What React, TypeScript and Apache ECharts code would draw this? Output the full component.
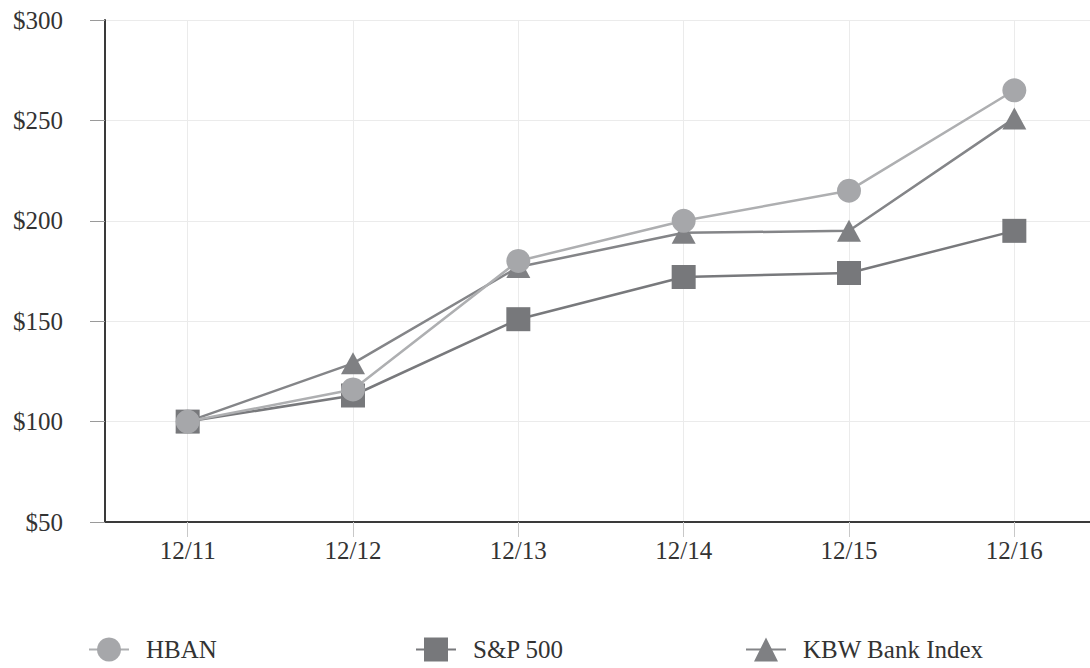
import React, { useEffect, useRef } from "react";
import * as echarts from "echarts";

const categories = ["12/11", "12/12", "12/13", "12/14", "12/15", "12/16"];
const hban = [100, 116, 180, 200, 215, 265];
const sp500 = [100, 113, 151, 172, 174, 195];
const kbw = [100, 129, 177, 194, 195, 251];
const yTicks = { min: 50, max: 300, interval: 50 };

const FONT = "'Liberation Serif', 'Times New Roman', serif";

export default function App() {
  const ref = useRef<HTMLDivElement>(null);
  useEffect(() => {
    if (!ref.current) return;
    const chart = echarts.init(ref.current, null, { renderer: "svg" });
    const legendBase = (left: number, name: string) => ({
      data: [name],
      left,
      top: 637,
      padding: 0,
      itemWidth: 40,
      itemHeight: 30,
      textStyle: {
        fontFamily: FONT,
        fontSize: 25,
        color: "#333",
        padding: [0, 0, 0, 12],
      },
    });
    chart.setOption({
      animation: false,
      backgroundColor: "#fff",
      grid: { left: 105, top: 20, width: 992, height: 502 },
      legend: [
        legendBase(88, "HBAN"),
        legendBase(415, "S&P 500"),
        legendBase(745, "KBW Bank Index"),
      ],
      xAxis: {
        type: "category",
        data: categories,
        boundaryGap: true,
        axisLine: { lineStyle: { color: "#3a3a3a", width: 2 } },
        axisTick: {
          show: true,
          alignWithLabel: true,
          length: 15,
          lineStyle: { color: "#c8c8c8", width: 1 },
        },
        axisLabel: {
          fontFamily: FONT,
          fontSize: 25,
          color: "#333",
          margin: 16,
        },
        splitLine: {
          show: true,
          alignWithLabel: true,
          lineStyle: { color: "#ebebeb", width: 1 },
        },
      },
      yAxis: {
        type: "value",
        min: yTicks.min,
        max: yTicks.max,
        interval: yTicks.interval,
        axisLine: { show: true, lineStyle: { color: "#3a3a3a", width: 2 } },
        axisTick: {
          show: true,
          length: 15,
          lineStyle: { color: "#9a9a9a", width: 1 },
        },
        axisLabel: {
          fontFamily: FONT,
          fontSize: 25,
          color: "#333",
          margin: 42,
          formatter: (v: number) => "$" + v,
        },
        splitLine: { show: true, lineStyle: { color: "#ebebeb", width: 1 } },
      },
      series: [
        {
          name: "KBW Bank Index",
          type: "line",
          data: kbw,
          z: 2,
          symbol: "triangle",
          symbolSize: [24, 22],
          lineStyle: { color: "#848588", width: 2.5 },
          itemStyle: { color: "#7f8083" },
        },
        {
          name: "S&P 500",
          type: "line",
          data: sp500,
          z: 3,
          symbol: "rect",
          symbolSize: 24,
          lineStyle: { color: "#78797c", width: 2.5 },
          itemStyle: { color: "#77787b" },
        },
        {
          name: "HBAN",
          type: "line",
          data: hban,
          z: 4,
          symbol: "circle",
          symbolSize: 24,
          lineStyle: { color: "#aeafb1", width: 2.5 },
          itemStyle: { color: "#a6a7aa" },
        },
      ],
    });
    return () => chart.dispose();
  }, []);
  return (
    <div
      ref={ref}
      style={{ position: "fixed", left: 0, top: 0, width: 1100, height: 668 }}
    />
  );
}
